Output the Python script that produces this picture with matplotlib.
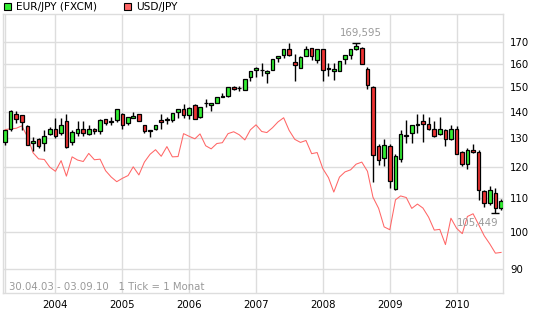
import numpy as np
import pandas as pd
import matplotlib
matplotlib.use('Agg')
import matplotlib.pyplot as plt
import matplotlib.dates as mdates
from matplotlib.patches import Rectangle
from matplotlib.ticker import FixedLocator, NullLocator, FuncFormatter

# monthly candles, Apr 2003 .. Sep 2010
months = pd.date_range('2003-04-01', periods=90, freq='MS')

eur_open = [128.6, 133.2, 139.0, 138.5, 134.6, 128.2, 129.8, 128.2, 131.3, 133.4,
            131.7, 136.5, 128.4, 131.8, 133.4, 131.3, 133.4, 132.7, 137.1, 135.8,
            136.8, 139.1, 135.4, 137.6, 139.1, 134.7, 132.6, 133.4, 136.9, 136.9,
            136.8, 140.0, 141.1, 138.8, 142.8, 137.8, 143.3, 142.6, 143.6, 145.9,
            146.2, 150.1, 149.4, 148.9, 154.3, 157.3, 157.3, 156.1, 157.4, 162.6,
            163.9, 167.0, 160.8, 158.4, 163.7, 167.2, 162.0, 166.7, 158.2, 156.9,
            157.0, 162.3, 164.0, 166.7, 167.4, 157.9, 150.2, 127.2, 122.8, 127.2,
            112.6, 122.7, 130.7, 132.0, 134.7, 136.2, 135.3, 133.4, 131.4, 133.1,
            129.5, 133.5, 125.0, 121.0, 125.8, 125.0, 112.0, 108.2, 111.5, 106.8]
eur_high = [133.1, 140.5, 140.3, 138.6, 135.0, 130.3, 130.0, 133.0, 134.0, 137.5,
            137.5, 139.0, 133.0, 136.4, 136.4, 134.7, 133.6, 137.0, 137.3, 138.0,
            141.1, 139.3, 138.0, 139.8, 139.2, 134.8, 132.6, 134.7, 138.9, 137.8,
            139.6, 141.2, 143.1, 142.0, 142.9, 141.9, 144.9, 143.5, 145.9, 147.6,
            150.2, 150.3, 150.5, 153.4, 156.7, 158.6, 160.6, 157.3, 162.3, 163.8,
            166.9, 169.5, 164.6, 163.6, 168.5, 167.3, 166.8, 166.8, 160.4, 160.5,
            161.4, 164.1, 166.8, 169.595, 168.0, 158.6, 150.5, 128.0, 129.6, 128.0,
            124.2, 133.1, 136.8, 134.8, 139.2, 139.2, 138.0, 136.5, 137.8, 133.3,
            134.7, 134.5, 125.2, 126.5, 128.0, 125.8, 112.5, 113.5, 113.0, 109.5]
eur_low = [127.6, 132.5, 135.6, 133.0, 127.3, 125.4, 126.4, 125.2, 131.0, 130.0,
           131.0, 126.5, 127.5, 130.6, 130.6, 131.0, 131.6, 131.6, 135.0, 134.8,
           136.0, 133.3, 134.9, 137.4, 136.4, 132.0, 130.4, 133.0, 133.4, 135.1,
           136.1, 137.6, 137.5, 137.2, 137.0, 137.5, 141.9, 140.3, 143.4, 145.8,
           146.0, 148.8, 148.3, 148.7, 152.5, 154.3, 154.5, 151.5, 157.2, 161.1,
           162.6, 163.8, 152.7, 158.2, 163.5, 161.7, 160.4, 152.7, 154.9, 152.8,
           156.8, 159.8, 162.3, 166.5, 159.8, 149.1, 115.0, 120.5, 120.2, 112.9,
           112.3, 121.6, 128.3, 128.3, 132.0, 128.6, 133.0, 130.3, 131.0, 127.0,
           129.3, 124.2, 120.3, 119.3, 124.6, 109.2, 107.0, 107.8, 105.449, 106.3]
eur_close = [133.1, 140.4, 137.3, 136.1, 127.6, 128.9, 127.1, 130.8, 133.4, 130.7,
             134.9, 126.8, 132.1, 133.4, 132.0, 133.5, 132.7, 136.9, 135.4, 136.5,
             141.1, 135.0, 137.9, 138.4, 136.5, 132.5, 132.5, 134.7, 136.1, 136.9,
             139.6, 140.9, 138.6, 141.5, 137.2, 141.9, 143.3, 143.5, 145.9, 146.4,
             150.1, 149.0, 149.4, 153.4, 156.7, 158.1, 157.2, 157.0, 162.3, 163.6,
             166.9, 164.0, 159.4, 163.4, 166.7, 163.5, 166.7, 157.4, 157.8, 157.8,
             161.3, 164.0, 166.7, 168.5, 160.0, 150.7, 124.1, 122.2, 127.5, 115.1,
             123.7, 131.3, 130.8, 134.7, 135.3, 135.2, 133.4, 130.6, 133.5, 129.5,
             133.5, 124.4, 121.0, 125.8, 125.0, 112.3, 108.2, 112.5, 106.8, 108.9]

# USD/JPY, rebased to the EUR/JPY start value
usd_line = [133.1, 133.4, 133.6, 134.5, 130.5, 124.7, 122.6, 122.4, 119.8, 118.4,
            122.0, 116.8, 123.3, 122.2, 121.7, 124.5, 122.3, 122.5, 118.6, 116.5,
            115.0, 116.1, 117.0, 119.9, 117.2, 121.5, 124.2, 125.8, 123.5, 126.9,
            123.3, 123.4, 131.6, 130.6, 129.7, 131.5, 127.2, 126.1, 128.0, 128.3,
            131.6, 132.3, 131.2, 129.3, 133.0, 134.9, 132.4, 132.0, 133.8, 136.0,
            137.6, 132.8, 129.5, 128.4, 129.1, 124.4, 124.8, 119.3, 116.3, 111.7,
            116.5, 118.2, 118.9, 120.8, 121.5, 118.4, 110.1, 106.7, 101.3, 100.5,
            109.3, 110.5, 110.0, 106.7, 108.0, 106.8, 104.1, 100.4, 100.6, 96.4,
            103.8, 100.9, 99.4, 104.3, 105.1, 102.0, 98.8, 96.6, 94.1, 94.3]

yticks = [90, 100, 110, 120, 130, 140, 150, 160, 170]
years = [2004, 2005, 2006, 2007, 2008, 2009, 2010]

green = '#33ee33'
red = '#ee3333'
line_red = '#ff6666'
grid_c = '#dddddd'
gray_txt = '#999999'

plt.rcParams['font.family'] = 'DejaVu Sans'

fig = plt.figure(figsize=(5.45, 3.27), dpi=100)
ax = fig.add_axes([3/545, 34/327, 500/545, 279/327])

x = mdates.date2num(months.to_pydatetime())
o = np.array(eur_open)
c = np.array(eur_close)
bottoms = np.minimum(o, c)
heights = np.maximum(np.abs(c - o), 0.3)
colors = [green if cc >= oo else red for oo, cc in zip(o, c)]

ax.plot(x, usd_line, color=line_red, lw=0.75, zorder=2)
ax.vlines(x, eur_low, eur_high, color='black', lw=1, zorder=3)
ax.bar(x, heights, bottom=bottoms, width=20, color=colors,
       edgecolor='black', linewidth=0.9, zorder=4)

# high / low markers
i_hi = int(np.argmax(eur_high))
i_lo = int(np.argmin(eur_low))
ax.hlines(eur_high[i_hi], x[i_hi] - 22, x[i_hi] + 22, color='black', lw=1, zorder=4)
ax.hlines(eur_low[i_lo], x[i_lo] - 22, x[i_lo] + 22, color='black', lw=1, zorder=4)
ax.annotate(f"{eur_high[i_hi]:.3f}".replace('.', ','), (x[i_hi], eur_high[i_hi]),
            xytext=(5, 10), textcoords='offset pixels', ha='center', va='center',
            fontsize=7.3, color=gray_txt, zorder=5)
ax.annotate(f"{eur_low[i_lo]:.3f}".replace('.', ','), (x[i_lo], eur_low[i_lo]),
            xytext=(-18, -10), textcoords='offset pixels', ha='center', va='center',
            fontsize=7.3, color=gray_txt, zorder=5)

ax.set_yscale('log')
ax.set_ylim(84.15, 184.1)
ax.yaxis.set_major_locator(FixedLocator(yticks))
ax.yaxis.set_minor_locator(NullLocator())
ax.yaxis.set_major_formatter(FuncFormatter(lambda v, p: f"{v:.0f}"))
ax.yaxis.tick_right()

ax.set_xlim(x[0] - 11.5, x[-1] + 10.5)
ax.xaxis.set_major_locator(FixedLocator(mdates.date2num([pd.Timestamp(f"{y}-01-01") for y in years])))
ax.xaxis.set_major_formatter(FuncFormatter(lambda v, p: mdates.num2date(v).strftime('%Y')))

ax.tick_params(axis='both', length=0, labelsize=7.3, colors='black')
ax.tick_params(axis='x', pad=5)
ax.tick_params(axis='y', pad=5)
ax.grid(True, color=grid_c, lw=1, zorder=0)
ax.axvline(x[0], color=grid_c, lw=1, zorder=0)
ax.set_axisbelow(True)
for s in ax.spines.values():
    s.set_color(grid_c)
    s.set_linewidth(1)

ax.text(0.012, 0.022, "30.04.03 - 03.09.10   1 Tick = 1 Monat", transform=ax.transAxes,
        fontsize=7.3, color=gray_txt, ha='left', va='center')

# legend
fig.patches.append(Rectangle((3.5/545, 1 - 10/327), 7/545, 7/327, transform=fig.transFigure,
                             facecolor=green, edgecolor='black', lw=0.8))
fig.text(15.5/545, 1 - 6.5/327, "EUR/JPY (FXCM)", fontsize=7.6, va='center', ha='left')
fig.patches.append(Rectangle((124/545, 1 - 10/327), 7/545, 7/327, transform=fig.transFigure,
                             facecolor=line_red, edgecolor='black', lw=0.8))
fig.text(136/545, 1 - 6.5/327, "USD/JPY", fontsize=7.6, va='center', ha='left')

fig.savefig('out.png', dpi=100)
